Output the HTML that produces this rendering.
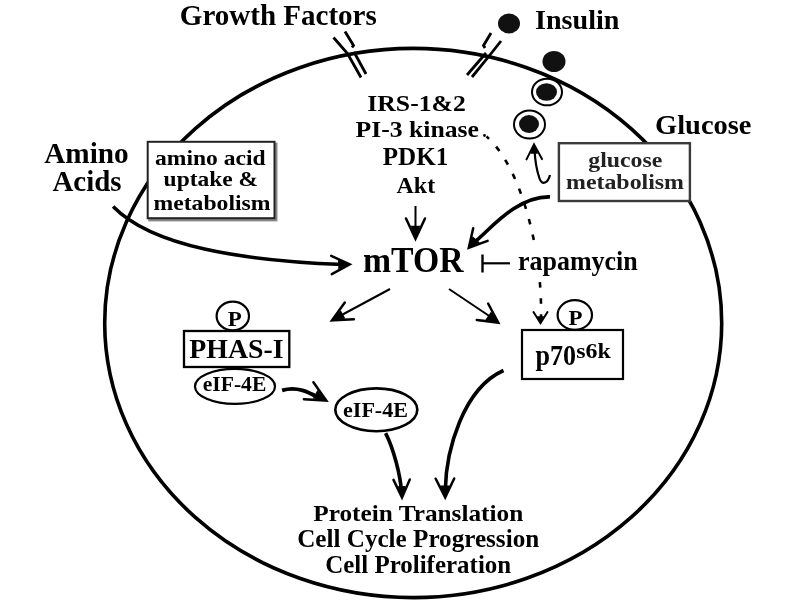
<!DOCTYPE html>
<html><head><meta charset="utf-8"><style>
html,body{margin:0;padding:0;background:#fff;}
svg{display:block;font-family:"Liberation Serif",serif;filter:blur(0.7px);}
</style></head><body>
<svg width="800" height="600" viewBox="0 0 800 600">
<rect width="800" height="600" fill="#fff"/>
<ellipse cx="413.2" cy="323" rx="308.5" ry="274.6" fill="none" stroke="#000" stroke-width="3.6"/>
<polyline points="333.5,37.5 347.5,53.5 361,77.5" fill="none" stroke="#000" stroke-width="2.8"/>
<polyline points="345,31.5 353.5,45.5 352,47.5" fill="none" stroke="#000" stroke-width="2.8"/>
<polyline points="354,52 366,74" fill="none" stroke="#000" stroke-width="2.8"/>
<polyline points="491,33 483.5,45.5 485,48" fill="none" stroke="#000" stroke-width="2.8"/>
<polyline points="486,53 467,75" fill="none" stroke="#000" stroke-width="2.8"/>
<polyline points="501,41 491.5,53 472,77" fill="none" stroke="#000" stroke-width="2.8"/>
<ellipse cx="509" cy="23.5" rx="11" ry="10" fill="#111"/>
<ellipse cx="554" cy="61.5" rx="11.5" ry="10.5" fill="#111"/>
<ellipse cx="547" cy="92" rx="15" ry="13.3" fill="#fff" stroke="#000" stroke-width="2"/>
<ellipse cx="546.5" cy="92" rx="10.5" ry="8.8" fill="#111"/>
<ellipse cx="529.5" cy="124.5" rx="15.5" ry="14" fill="#fff" stroke="#000" stroke-width="2"/>
<ellipse cx="529" cy="124" rx="10" ry="9" fill="#111"/>
<text x="179.8" y="24.8" font-size="30" font-weight="bold" text-anchor="start" fill="#000" textLength="197" lengthAdjust="spacingAndGlyphs">Growth Factors</text>
<text x="535" y="28.7" font-size="28" font-weight="bold" text-anchor="start" fill="#000" textLength="84.4" lengthAdjust="spacingAndGlyphs">Insulin</text>
<text x="655" y="133.8" font-size="28" font-weight="bold" text-anchor="start" fill="#000" textLength="96.5" lengthAdjust="spacingAndGlyphs">Glucose</text>
<text x="44.2" y="162.8" font-size="28.5" font-weight="bold" text-anchor="start" fill="#000" textLength="84.5" lengthAdjust="spacingAndGlyphs">Amino</text>
<text x="52.5" y="190.7" font-size="28.5" font-weight="bold" text-anchor="start" fill="#000" textLength="69" lengthAdjust="spacingAndGlyphs">Acids</text>
<rect x="149.5" y="143.8" width="126.8" height="76.4" fill="none" stroke="#888" stroke-width="2.4"/>
<rect x="147.7" y="141.8" width="126.8" height="76.4" fill="#fff" stroke="#222" stroke-width="2"/>
<text x="155" y="165" font-size="21" font-weight="bold" text-anchor="start" fill="#000" textLength="110.6" lengthAdjust="spacingAndGlyphs">amino acid</text>
<text x="163.6" y="186.2" font-size="21" font-weight="bold" text-anchor="start" fill="#000" textLength="94.5" lengthAdjust="spacingAndGlyphs">uptake &amp;</text>
<text x="153.5" y="209.6" font-size="21" font-weight="bold" text-anchor="start" fill="#000" textLength="117" lengthAdjust="spacingAndGlyphs">metabolism</text>
<rect x="558.9" y="143.2" width="131" height="57.8" fill="#fff" stroke="#3a3a3a" stroke-width="2.4"/>
<text x="588.3" y="166.6" font-size="20.5" font-weight="bold" text-anchor="start" fill="#222" textLength="74" lengthAdjust="spacingAndGlyphs">glucose</text>
<text x="566" y="188.8" font-size="20.5" font-weight="bold" text-anchor="start" fill="#222" textLength="118" lengthAdjust="spacingAndGlyphs">metabolism</text>
<text x="367.3" y="110.7" font-size="23.5" font-weight="bold" text-anchor="start" fill="#000" textLength="98.5" lengthAdjust="spacingAndGlyphs">IRS-1&amp;2</text>
<text x="355.5" y="137" font-size="23.5" font-weight="bold" text-anchor="start" fill="#000" textLength="123.5" lengthAdjust="spacingAndGlyphs">PI-3 kinase</text>
<circle cx="484.5" cy="135.5" r="1.4" fill="#000"/>
<text x="382.8" y="165.3" font-size="25" font-weight="bold" text-anchor="start" fill="#000" textLength="65.5" lengthAdjust="spacingAndGlyphs">PDK1</text>
<text x="396.6" y="192.9" font-size="24" font-weight="bold" text-anchor="start" fill="#000" textLength="38.5" lengthAdjust="spacingAndGlyphs">Akt</text>
<text x="363" y="272.2" font-size="35" font-weight="bold" text-anchor="start" fill="#000" textLength="100.5" lengthAdjust="spacingAndGlyphs">mTOR</text>
<line x1="482.5" y1="254.5" x2="482.5" y2="272.5" stroke="#000" stroke-width="2.4"/>
<line x1="482.5" y1="263.3" x2="510" y2="263.3" stroke="#000" stroke-width="2.2"/>
<line x1="415.5" y1="206" x2="415.5" y2="232" stroke="#000" stroke-width="2"/>
<path d="M415.5,239.5 L410.8,225.8 L420.2,225.8 Z" fill="#000"/><path d="M406.0,218.5 L415.5,238.7 L425.0,218.5" fill="none" stroke="#000" stroke-width="2.5" stroke-linecap="round" stroke-linejoin="miter"/>
<line x1="390" y1="289" x2="338" y2="317" stroke="#000" stroke-width="2"/>
<path d="M331.3,320.7 L340.8,310.2 L345.3,318.5 Z" fill="#000"/><path d="M344.8,302.6 L332.0,320.3 L353.9,319.3" fill="none" stroke="#000" stroke-width="2.5" stroke-linecap="round" stroke-linejoin="miter"/>
<line x1="449" y1="289" x2="493" y2="318.5" stroke="#000" stroke-width="2"/>
<path d="M499.0,323.0 L485.4,319.8 L491.1,311.6 Z" fill="#000"/><path d="M476.8,320.0 L498.3,322.6 L488.1,303.5" fill="none" stroke="#000" stroke-width="2.5" stroke-linecap="round" stroke-linejoin="miter"/>
<path d="M113.1,206.5 C152.05,246.5 240.9,260.6 344,264.5" fill="none" stroke="#000" stroke-width="3.5"/>
<path d="M350.5,264.3 L338.3,269.3 L338.0,260.1 Z" fill="#000"/><path d="M331.8,274.1 L349.7,264.3 L331.2,255.8" fill="none" stroke="#000" stroke-width="2.5" stroke-linecap="round" stroke-linejoin="miter"/>
<path d="M550,196.9 C515.7,196.1 488.3,231.7 474,242.5" fill="none" stroke="#000" stroke-width="3.6"/>
<path d="M468.3,248.3 L472.6,236.2 L479.8,242.6 Z" fill="#000"/><path d="M473.2,228.2 L468.8,247.7 L487.6,240.9" fill="none" stroke="#000" stroke-width="2.5" stroke-linecap="round" stroke-linejoin="miter"/>
<path d="M550,175 C548,183 542,186 539.5,178.5 C537,171 535,162 534.6,150" fill="none" stroke="#000" stroke-width="2.2"/>
<path d="M534.0,143.5 L538.0,153.7 L530.3,153.8 Z" fill="#000"/><path d="M542.0,159.1 L534.0,144.3 L526.5,159.4" fill="none" stroke="#000" stroke-width="2" stroke-linecap="round" stroke-linejoin="miter"/>
<path d="M486.5,136.5 C522.1,167.7 542.7,253.8 541,318" fill="none" stroke="#000" stroke-width="2.6" stroke-dasharray="5.5,10.5" stroke-dashoffset="2"/>
<path d="M540.5,324.0 L537.0,316.2 L544.0,316.2 Z" fill="#000"/><path d="M533.5,312.0 L540.5,323.2 L547.5,312.0" fill="none" stroke="#000" stroke-width="2" stroke-linecap="round" stroke-linejoin="miter"/>
<rect x="516" y="250" width="124" height="27" fill="#fff"/>
<text x="518" y="269.5" font-size="28" font-weight="bold" text-anchor="start" fill="#000" textLength="119.7" lengthAdjust="spacingAndGlyphs">rapamycin</text>
<ellipse cx="232.8" cy="316" rx="16.2" ry="14.4" fill="#fff" stroke="#000" stroke-width="2.2"/>
<text x="227.8" y="325.9" font-size="21.5" font-weight="bold" text-anchor="start" fill="#000" textLength="14" lengthAdjust="spacingAndGlyphs">P</text>
<rect x="184" y="331" width="105.3" height="36" fill="#fff" stroke="#000" stroke-width="2.3"/>
<text x="189.3" y="358" font-size="28" font-weight="bold" text-anchor="start" fill="#000" textLength="94.3" lengthAdjust="spacingAndGlyphs">PHAS-I</text>
<ellipse cx="235" cy="386.4" rx="40" ry="17.5" fill="#fff" stroke="#000" stroke-width="2.2"/>
<text x="202.8" y="390.8" font-size="21.5" font-weight="bold" text-anchor="start" fill="#000" textLength="63.5" lengthAdjust="spacingAndGlyphs">eIF-4E</text>
<path d="M282.1,390.4 C298.8,385.3 311.9,394.1 320,398.5" fill="none" stroke="#000" stroke-width="3.8"/>
<path d="M327.0,401.0 L312.7,398.6 L317.5,390.1 Z" fill="#000"/><path d="M303.9,399.2 L326.3,400.6 L313.4,382.3" fill="none" stroke="#000" stroke-width="2.5" stroke-linecap="round" stroke-linejoin="miter"/>
<ellipse cx="376.3" cy="409.8" rx="41" ry="21.4" fill="#fff" stroke="#000" stroke-width="2.6"/>
<text x="343" y="417.3" font-size="20" font-weight="bold" text-anchor="start" fill="#000" textLength="65" lengthAdjust="spacingAndGlyphs">eIF-4E</text>
<ellipse cx="574.8" cy="315" rx="17.2" ry="14.8" fill="#fff" stroke="#000" stroke-width="2.2"/>
<text x="568.5" y="325.2" font-size="21.5" font-weight="bold" text-anchor="start" fill="#000" textLength="14" lengthAdjust="spacingAndGlyphs">P</text>
<rect x="522" y="330" width="101" height="49" fill="#fff" stroke="#000" stroke-width="2.2"/>
<text x="535.5" y="365.2" font-size="29.5" font-weight="bold" text-anchor="start" fill="#000" textLength="40.5" lengthAdjust="spacingAndGlyphs">p70</text>
<text x="576.2" y="358.2" font-size="22" font-weight="bold" text-anchor="start" fill="#000" textLength="34.5" lengthAdjust="spacingAndGlyphs">s6k</text>
<path d="M385.6,433.1 C394,449.4 400.6,477.1 401.2,490" fill="none" stroke="#000" stroke-width="3.6"/>
<path d="M402.0,498.2 L397.7,486.3 L405.9,486.1 Z" fill="#000"/><path d="M393.5,479.9 L402.0,497.4 L409.8,479.5" fill="none" stroke="#000" stroke-width="2.5" stroke-linecap="round" stroke-linejoin="miter"/>
<path d="M503.5,370.5 C463,388.4 446,450.7 445.3,490" fill="none" stroke="#000" stroke-width="3.6"/>
<path d="M445.2,498.2 L440.4,485.5 L449.7,485.4 Z" fill="#000"/><path d="M435.7,478.7 L445.2,497.4 L454.2,478.5" fill="none" stroke="#000" stroke-width="2.5" stroke-linecap="round" stroke-linejoin="miter"/>
<text x="313.25" y="521.25" font-size="24" font-weight="bold" text-anchor="start" fill="#000" textLength="210" lengthAdjust="spacingAndGlyphs">Protein Translation</text>
<text x="297.2" y="546.7" font-size="26" font-weight="bold" text-anchor="start" fill="#000" textLength="242" lengthAdjust="spacingAndGlyphs">Cell Cycle Progression</text>
<text x="325.2" y="572.5" font-size="25.5" font-weight="bold" text-anchor="start" fill="#000" textLength="186" lengthAdjust="spacingAndGlyphs">Cell Proliferation</text>
</svg>
</body></html>
